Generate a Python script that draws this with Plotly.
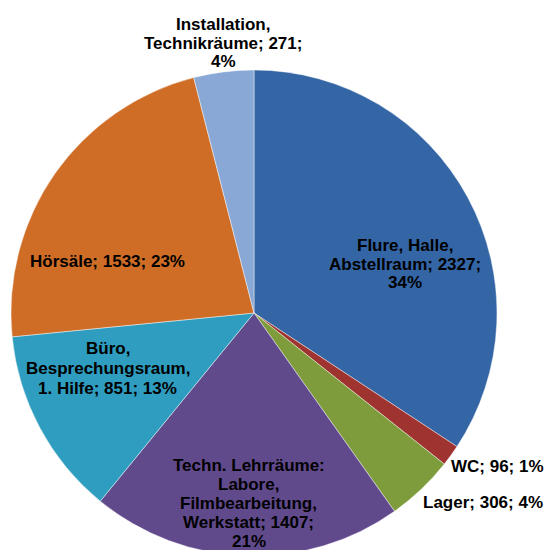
import plotly.graph_objects as go

names = ["Flure, Halle, Abstellraum", "WC", "Lager",
         "Techn. Lehrräume: Labore, Filmbearbeitung, Werkstatt",
         "Büro, Besprechungsraum, 1. Hilfe", "Hörsäle",
         "Installation, Technikräume"]
values = [2327, 96, 306, 1407, 851, 1533, 271]
percents = [34, 1, 4, 21, 13, 23, 4]
colors = ["#3466a6", "#9e3330", "#7f9c3c", "#614a8c", "#2f9dbf", "#cf6d26", "#8aa8d5"]

# data-label lines (wrapped like the original)
label_lines = [
    ["Flure, Halle,", "Abstellraum; %d;" % values[0], "%d%%" % percents[0]],
    ["WC; %d; %d%%" % (values[1], percents[1])],
    ["Lager; %d; %d%%" % (values[2], percents[2])],
    ["Techn. Lehrräume:", "Labore,", "Filmbearbeitung,", "Werkstatt; %d;" % values[3], "%d%%" % percents[3]],
    ["Büro,", "Besprechungsraum,", "1. Hilfe; %d; %d%%" % (values[4], percents[4])],
    ["Hörsäle; %d; %d%%" % (values[5], percents[5])],
    ["Installation,", "Technikräume; %d;" % values[6], "%d%%" % percents[6]],
]

W, H = 545, 557

# label centres (x, first-line y) in screen pixels, and line pitch
label_pos = [(405, 245), (497, 466), (483, 502), (248.5, 464.5), (107.5, 347.5), (107, 261), (223, 24)]
pitch = [18.5, 19, 19, 19.1, 20, 19, 18.5]

# pie: centre (254, 313), radius 243 in screen pixels
cx, cy, r = 254, 313, 243

fig = go.Figure(go.Pie(
    labels=names,
    values=values,
    sort=False,
    direction="clockwise",
    rotation=0,
    marker=dict(colors=colors, line=dict(color="rgba(255,255,255,0.55)", width=0.8)),
    textinfo="none",
    hoverinfo="skip",
    domain=dict(x=[(cx - r) / W, (cx + r) / W], y=[1 - (cy + r) / H, 1 - (cy - r) / H]),
    showlegend=False,
))

for lines, (px, py), p in zip(label_lines, label_pos, pitch):
    for i, t in enumerate(lines):
        fig.add_annotation(
            text=t, x=px / W, y=1 - (py + i * p + 0.5) / H,
            xref="paper", yref="paper",
            xanchor="center", yanchor="middle", showarrow=False, align="center",
            font=dict(family="Liberation Sans, Arial, sans-serif", size=17,
                      color="#000000", weight="bold"),
        )

fig.update_layout(
    width=W, height=H,
    margin=dict(l=0, r=0, t=0, b=0),
    paper_bgcolor="#ffffff",
    plot_bgcolor="#ffffff",
)

fig.write_html(
    "out.html",
    config={"displayModeBar": False},
    post_script="document.body.style.margin='0';document.body.style.overflow='hidden';",
)
